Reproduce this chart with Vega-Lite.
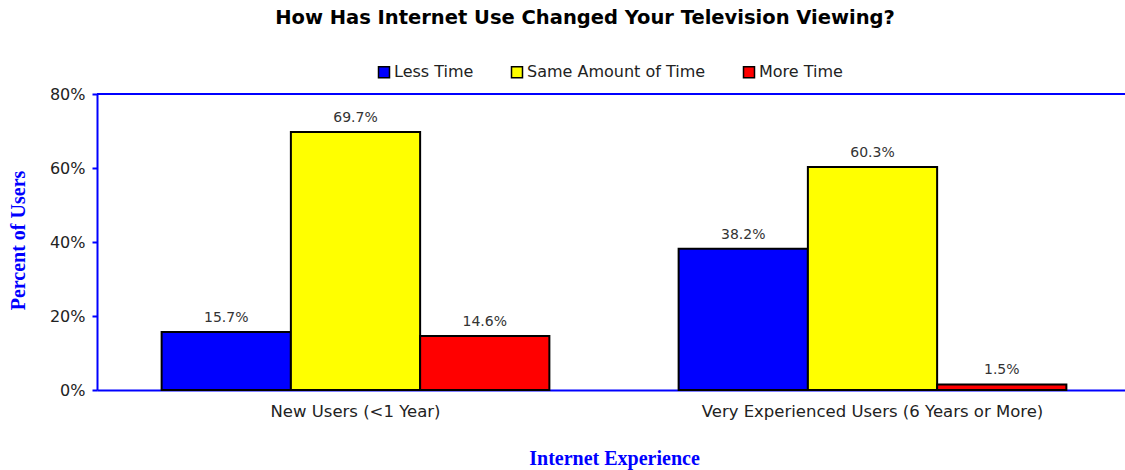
{
  "$schema": "https://vega.github.io/schema/vega-lite/v6.json",
  "autosize": "none",
  "padding": {"left": 97, "top": 94, "right": 0, "bottom": 80},
  "width": 1034,
  "height": 296,
  "background": "white",
  "config": {
    "view": {"stroke": null},
    "font": "DejaVu Sans"
  },
  "title": {
    "text": "How Has Internet Use Changed Your Television Viewing?",
    "font": "DejaVu Sans",
    "fontSize": 19.5,
    "fontWeight": "bold",
    "color": "#000000",
    "anchor": "middle",
    "dx": -29,
    "offset": 36
  },
  "data": {
    "values": [
      {"group": "New Users (<1 Year)", "series": "Less Time", "value": 0.157},
      {"group": "New Users (<1 Year)", "series": "Same Amount of Time", "value": 0.697},
      {"group": "New Users (<1 Year)", "series": "More Time", "value": 0.146},
      {"group": "Very Experienced Users (6 Years or More)", "series": "Less Time", "value": 0.382},
      {"group": "Very Experienced Users (6 Years or More)", "series": "Same Amount of Time", "value": 0.603},
      {"group": "Very Experienced Users (6 Years or More)", "series": "More Time", "value": 0.015}
    ]
  },
  "encoding": {
    "x": {
      "field": "group",
      "type": "nominal",
      "sort": null,
      "scale": {"paddingInner": 0.25, "paddingOuter": 0.125},
      "axis": {
        "title": "Internet Experience",
        "titleFont": "Liberation Serif",
        "titleFontSize": 20,
        "titleFontWeight": "bold",
        "titleColor": "#0000FF",
        "titleY": 68,
        "titleBaseline": "middle",
        "labelAngle": 0,
        "labelFont": "DejaVu Sans",
        "labelFontSize": 16.5,
        "labelColor": "#222222",
        "labelPadding": 13,
        "labelLimit": 500,
        "ticks": false,
        "domainColor": "#0000FF",
        "domainWidth": 2,
        "grid": false
      }
    }
  },
  "layer": [
    {
      "mark": {"type": "bar", "stroke": "#000000", "strokeWidth": 2},
      "encoding": {
        "xOffset": {"field": "series", "type": "nominal", "sort": ["Less Time", "Same Amount of Time", "More Time"]},
        "y": {
          "field": "value",
          "type": "quantitative",
          "scale": {"domain": [0, 0.8]},
          "axis": {
            "title": "Percent of Users",
            "titleFont": "Liberation Serif",
            "titleFontSize": 20,
            "titleFontWeight": "bold",
            "titleColor": "#0000FF",
            "titleX": -79,
            "titleY": 146,
            "titleAngle": -90,
            "titleAlign": "center",
            "titleBaseline": "middle",
            "format": ".0%",
            "values": [0, 0.2, 0.4, 0.6, 0.8],
            "labelFont": "DejaVu Sans",
            "labelFontSize": 16,
            "labelColor": "#222222",
            "labelPadding": 7,
            "tickSize": 5,
            "tickColor": "#0000FF",
            "tickWidth": 2,
            "domainColor": "#0000FF",
            "domainWidth": 2,
            "grid": false
          }
        },
        "color": {
          "field": "series",
          "type": "nominal",
          "sort": ["Less Time", "Same Amount of Time", "More Time"],
          "scale": {"domain": ["Less Time", "Same Amount of Time", "More Time"], "range": ["#0000FF", "#FFFF00", "#FF0000"]},
          "legend": {
            "title": null,
            "orient": "none",
            "direction": "horizontal",
            "legendX": 279,
            "legendY": -30,
            "symbolType": "square",
            "symbolSize": 121,
            "symbolStrokeColor": "#000000",
            "symbolStrokeWidth": 1.5,
            "symbolOpacity": 1,
            "labelFont": "DejaVu Sans",
            "labelFontSize": 16,
            "labelLimit": 400,
            "labelColor": "#222222",
            "labelOffset": 2,
            "columnPadding": 34
          }
        }
      }
    },
    {
      "mark": {"type": "text", "baseline": "bottom", "dy": -7, "font": "DejaVu Sans", "fontSize": 14, "color": "#333333"},
      "encoding": {
        "xOffset": {"field": "series", "type": "nominal", "sort": ["Less Time", "Same Amount of Time", "More Time"]},
        "y": {"field": "value", "type": "quantitative"},
        "text": {"field": "value", "type": "quantitative", "format": ".1%"}
      }
    },
    {
      "mark": {"type": "rule", "color": "#0000FF", "strokeWidth": 2},
      "encoding": {"y": {"datum": 0.8}, "x": null}
    }
  ]
}
